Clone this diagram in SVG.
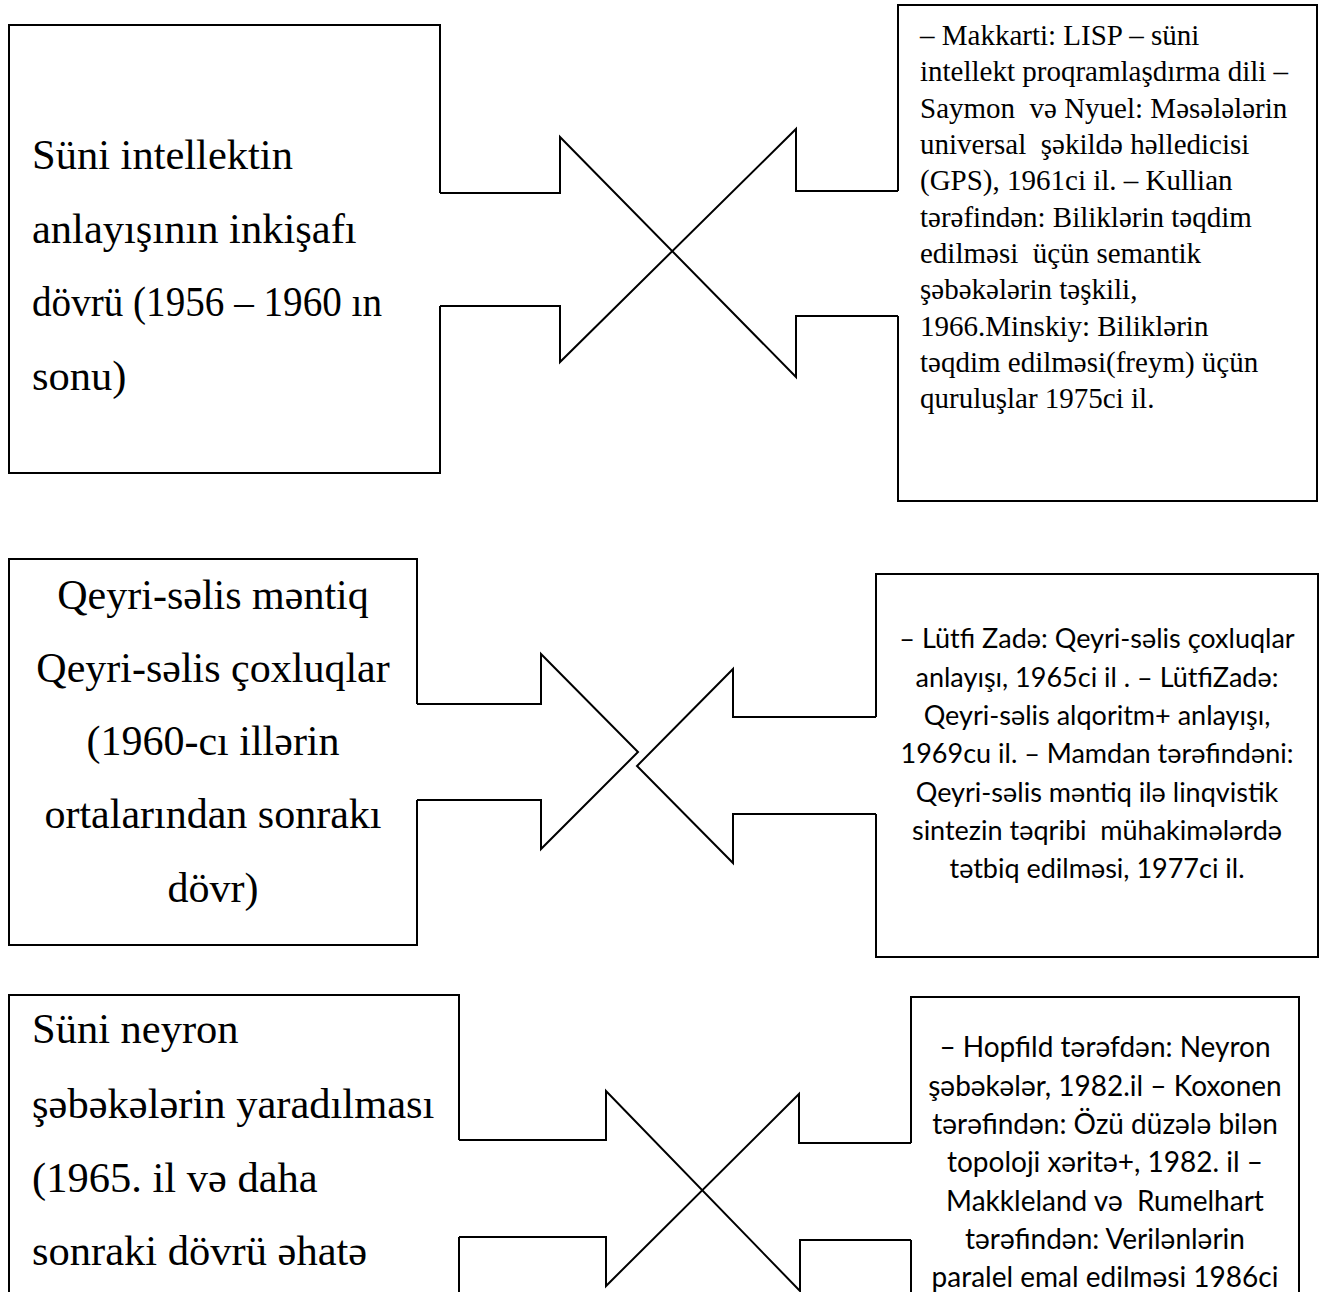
<svg xmlns="http://www.w3.org/2000/svg" width="1324" height="1292" viewBox="0 0 1324 1292">
<style>
.box{fill:none;stroke:#000;stroke-width:2;stroke-linejoin:miter}
.conn{fill:none;stroke:#000;stroke-width:2;stroke-linejoin:miter}
.big{font-family:"Liberation Serif","Times New Roman",serif;font-size:42.5px;fill:#000}
.bigc{font-family:"Liberation Serif","Times New Roman",serif;font-size:42px;fill:#000;text-anchor:middle}
.ser{font-family:"Liberation Serif","Times New Roman",serif;font-size:29px;fill:#000;white-space:pre}
.sans{font-family:Lato,"Noto Sans",sans-serif;font-size:28px;fill:#000;text-anchor:middle;white-space:pre}
.sans2{font-family:Lato,"Noto Sans",sans-serif;font-size:27px;fill:#000;text-anchor:middle;white-space:pre}
</style>
<rect width="1324" height="1292" fill="#fff"/>
<g id="connectors">
<path class="conn" d="M440,193 H560 V137 L796,377 V316 H898"/>
<path class="conn" d="M898,191 H796 V129 L560,362 V306 H440"/>
<path class="conn" d="M417,704 H541 V654 L638,752 L541,849 V800 H417"/>
<path class="conn" d="M876,717 H733 V669 L637,766 L733,863 V814 H876"/>
<path class="conn" d="M459,1140 H606 V1091 L800,1291 V1240 H911"/>
<path class="conn" d="M911,1143 H799 V1094 L606,1286 V1237 H459"/>
</g>
<g id="node1-left">
<path class="box" d="M440,193 V25 H9 V473 H440 V306"/>
<text class="big" x="32" y="169">Süni intellektin</text>
<text class="big" x="32" y="243">anlayışının inkişafı</text>
<text class="big" x="32" y="316" textLength="350" lengthAdjust="spacingAndGlyphs">dövrü (1956 – 1960 ın</text>
<text class="big" x="32" y="390">sonu)</text>
</g>
<g id="node1-right">
<path class="box" d="M898,191 V5 H1317 V501 H898 V316"/>
<text class="ser" x="920" y="45">– Makkarti: LISP – süni</text>
<text class="ser" x="920" y="81">intellekt proqramlaşdırma dili –</text>
<text class="ser" x="920" y="118">Saymon  və Nyuel: Məsələlərin</text>
<text class="ser" x="920" y="154">universal  şəkildə həlledicisi</text>
<text class="ser" x="920" y="190">(GPS), 1961ci il. – Kullian</text>
<text class="ser" x="920" y="227">tərəfindən: Biliklərin təqdim</text>
<text class="ser" x="920" y="263">edilməsi  üçün semantik</text>
<text class="ser" x="920" y="299">şəbəkələrin təşkili,</text>
<text class="ser" x="920" y="336">1966.Minskiy: Biliklərin</text>
<text class="ser" x="920" y="372">təqdim edilməsi(freym) üçün</text>
<text class="ser" x="920" y="408">quruluşlar 1975ci il.</text>
</g>
<g id="node2-left">
<path class="box" d="M417,704 V559 H9 V945 H417 V800"/>
<text class="bigc" x="213" y="609">Qeyri-səlis məntiq</text>
<text class="bigc" x="213" y="682">Qeyri-səlis çoxluqlar</text>
<text class="bigc" x="213" y="755">(1960-cı illərin</text>
<text class="bigc" x="213" y="828">ortalarından sonrakı</text>
<text class="bigc" x="213" y="902">dövr)</text>
</g>
<g id="node2-right">
<path class="box" d="M876,717 V574 H1318 V957 H876 V814"/>
<text class="sans2" x="1097" y="648">– Lütfi Zadə: Qeyri-səlis çoxluqlar</text>
<text class="sans2" x="1097" y="687">anlayışı, 1965ci il . – LütfiZadə:</text>
<text class="sans2" x="1097" y="725">Qeyri-səlis alqoritm+ anlayışı,</text>
<text class="sans2" x="1097" y="763">1969cu il. – Mamdan tərəfindəni:</text>
<text class="sans2" x="1097" y="802">Qeyri-səlis məntiq ilə linqvistik</text>
<text class="sans2" x="1097" y="840">sintezin təqribi  mühakimələrdə</text>
<text class="sans2" x="1097" y="878">tətbiq edilməsi, 1977ci il.</text>
</g>
<g id="node3-left">
<path class="box" d="M459,1140 V995 H9 V1300 M459,1237 V1300"/>
<text class="big" x="32" y="1043">Süni neyron</text>
<text class="big" x="32" y="1118">şəbəkələrin yaradılması</text>
<text class="big" x="32" y="1192">(1965. il və daha</text>
<text class="big" x="32" y="1265">sonraki dövrü əhatə</text>
</g>
<g id="node3-right">
<path class="box" d="M911,1143 V997 H1299 V1300 M911,1240 V1300"/>
<text class="sans" x="1105" y="1057">– Hopfild tərəfdən: Neyron</text>
<text class="sans" x="1105" y="1096">şəbəkələr, 1982.il – Koxonen</text>
<text class="sans" x="1105" y="1134">tərəfindən: Özü düzələ bilən</text>
<text class="sans" x="1105" y="1172">topoloji xəritə+, 1982. il –</text>
<text class="sans" x="1105" y="1211">Makkleland və  Rumelhart</text>
<text class="sans" x="1105" y="1249">tərəfindən: Verilənlərin</text>
<text class="sans" x="1105" y="1287">paralel emal edilməsi 1986ci</text>
</g>
</svg>
